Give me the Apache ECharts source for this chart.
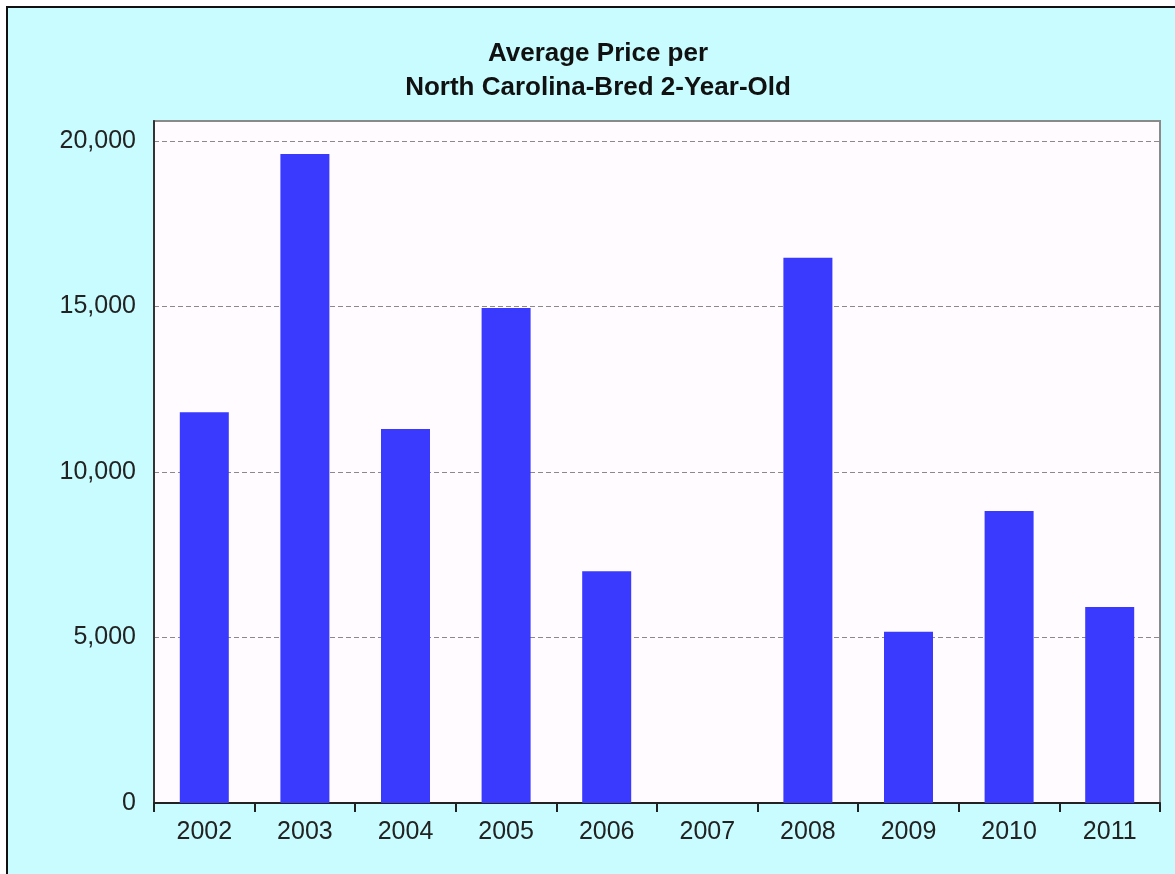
<!DOCTYPE html>
<html>
<head>
<meta charset="utf-8">
<script src="https://cdn.jsdelivr.net/npm/echarts@6/dist/echarts.min.js"></script>
<style>
  html, body { margin: 0; padding: 0; background: #ffffff; }
  #chart { width: 1175px; height: 874px; }
</style>
</head>
<body>
<div id="chart"></div>
<script>
// Sale years and average price of a North Carolina-bred 2-year-old (USD)
const years = ['2002', '2003', '2004', '2005', '2006', '2007', '2008', '2009', '2010', '2011'];
const avgPrice = [11800, 19600, 11300, 14950, 7000, 0, 16470, 5170, 8820, 5920];
const yTicks = [0, 5000, 10000, 15000, 20000];

const chart = echarts.init(document.getElementById('chart'));
const font = '"Liberation Sans", Arial, sans-serif';

chart.setOption({
  backgroundColor: '#c8fcfe',
  animation: false,
  title: {
    text: 'Average Price per\nNorth Carolina-Bred 2-Year-Old',
    left: 593,
    textAlign: 'center',
    top: 32,
    textStyle: { fontFamily: font, fontSize: 26, fontWeight: 'bold', color: '#111', lineHeight: 34 }
  },
  graphic: [
    { type: 'rect', shape: { x: 0, y: 0, width: 1175, height: 6 }, style: { fill: '#ffffff' }, silent: true },
    { type: 'rect', shape: { x: 0, y: 0, width: 6, height: 874 }, style: { fill: '#ffffff' }, silent: true },
    { type: 'line', shape: { x1: 7, y1: 6, x2: 7, y2: 874 }, style: { stroke: '#111', lineWidth: 2 }, silent: true },
    { type: 'line', shape: { x1: 6, y1: 7, x2: 1175, y2: 7 }, style: { stroke: '#111', lineWidth: 2 }, silent: true }
  ],
  grid: {
    left: 154, right: 15, top: 121, bottom: 71,
    show: true,
    backgroundColor: '#fffbfe',
    borderColor: '#8a8a8a',
    borderWidth: 2
  },
  xAxis: {
    type: 'category',
    data: years,
    axisLine: { lineStyle: { color: '#222', width: 2 } },
    axisTick: { show: true, length: 9, alignWithLabel: false, lineStyle: { color: '#222', width: 2 } },
    axisLabel: { margin: 17, fontFamily: font, fontSize: 25, color: '#222' }
  },
  yAxis: {
    type: 'value',
    min: 0,
    max: 20600,
    interval: 5000,
    axisLine: { show: true, lineStyle: { color: '#333', width: 2 } },
    axisTick: { show: false },
    axisLabel: {
      margin: 18, fontFamily: font, fontSize: 25, color: '#222', padding: [3, 0, 0, 0],
      formatter: v => yTicks.includes(v) ? v.toLocaleString('en-US') : ''
    },
    splitLine: {
      show: true,
      lineStyle: { color: '#8a8a8a', type: [5, 3], width: 1 }
    }
  },
  series: [{
    type: 'bar',
    data: avgPrice,
    barWidth: 49,
    itemStyle: { color: '#3a3aff' }
  }]
});
</script>
</body>
</html>
